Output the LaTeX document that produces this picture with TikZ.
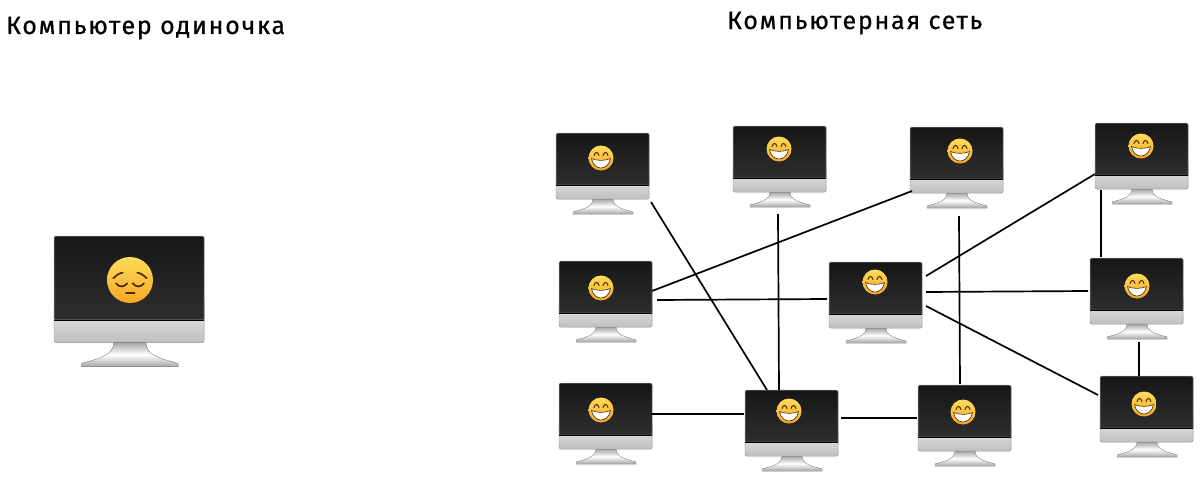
\documentclass[tikz,border=0pt]{standalone}
\usepackage{fontspec}
\setmainfont[LetterSpace=7,FakeBold=0.6]{Fira Sans}
\usetikzlibrary{arrows.meta,positioning,calc}
\definecolor{screendark}{HTML}{161616}
\definecolor{screenlight}{HTML}{2E2E2E}
\definecolor{rimgray}{HTML}{9A9A9A}
\definecolor{faceyellow}{HTML}{FFDC5A}
\definecolor{faceorange}{HTML}{F7A626}
\definecolor{facebrown}{HTML}{4A2A05}
\tikzset{
  pics/monitor/.style={code={
    \node[box] (-box) at (46.5,41.5) {};
    \fill[top color=gray!70,bottom color=gray!70,middle color=white,draw=rimgray,line width=.3pt]
      (37,66) -- (57,66) .. controls (57,74) and (66,76) .. (77,79) -- (77,81) -- (17,81) -- (17,79)
      .. controls (28,76) and (37,74) .. (37,66) -- cycle;
    \fill[top color=gray!15,bottom color=gray!50,draw=rimgray,line width=.4pt,rounded corners=1.5pt]
      (0,40) rectangle (93,66);
    \fill[top color=screendark,bottom color=screenlight,draw=rimgray,line width=.5pt]
      (0,52) {[rounded corners=1.5pt] -- (0,0) -- (93,0)} -- (93,52) -- cycle;
    \draw[black,line width=.6pt] (.3,52) -- (92.7,52);
  }},
  pics/grin/.style={code={
    \node[face,minimum size=25pt] (-disk) at (0,0) {};
    \draw[feature,line width=1pt] (-7,-2.5) .. controls (-6,-6.5) and (-3,-6.5) .. (-2,-2.5);
    \draw[feature,line width=1pt] (2,-2.5) .. controls (3,-6.5) and (6,-6.5) .. (7,-2.5);
    \fill[white,draw=facebrown,line width=.6pt] (-9.5,.5) .. controls (-4,3) and (4,3) .. (9.5,.5)
      .. controls (8.5,7) and (4,10) .. (0,10) .. controls (-4,10) and (-8.5,7) .. (-9.5,.5) -- cycle;
  }},
  pics/pensive/.style={code={
    \node[face,minimum size=46pt] (-disk) at (0,0) {};
    \draw[feature] (-16.7,-1.7) .. controls (-13,-5.5) and (-10,-7) .. (-7.3,-7.3);
    \draw[feature] (16.7,-1.7) .. controls (13,-5.5) and (10,-7) .. (7.3,-7.3);
    \draw[feature] (-14,3.3) .. controls (-11,7.5) and (-6,7.5) .. (-2.7,3.3);
    \draw[feature] (14,3.3) .. controls (11,7.5) and (6,7.5) .. (2.7,3.3);
    \draw[feature] (-4,13.3) -- (4.6,13.3);
  }},
}
\begin{document}
\begin{tikzpicture}[
  x=1pt, y=-1pt,
  box/.style={minimum width=93pt,minimum height=83pt,inner sep=0pt,outer sep=0pt},
  face/.style={circle,inner sep=0pt,outer sep=0pt,top color=faceyellow,bottom color=faceorange},
  feature/.style={draw=facebrown,line width=1.7pt,line cap=round},
  link/.style={line width=1.7pt,black},
  heading/.style={anchor=base west,inner sep=0pt,font=\fontsize{25}{30}\selectfont}
]
\useasboundingbox (0,0) rectangle (1200,479);
\node[heading] (alone) at (6,34) {Компьютер одиночка};
\node[heading] (net) at (727,29) {Компьютерная сеть};
% lonely machine
\pic[scale=1.613] (big) at (54,236) {monitor};
\pic (bigface) at (130,280) {pensive};
% the network
\foreach \n/\x/\y/\ex/\ey in {m1/556/133/601/158,m2/733/126/779/149,m3/910/127/960/151,
  m4/1095/123/1141/146,m5/559/261/601/288,m6/829/262/875/282,m7/1090/258/1137/286,
  m8/559/383/601/410,m9/745/390/789/411,m10/918/385/963/412,m11/1100/376/1144/404}{
  \pic (\n) at (\x,\y) {monitor};
  \pic (\n face) at (\ex,\ey) {grin};
}
\draw[link] ([shift={(95,69)}]m1-box.north west) -- ([shift={(22,0)}]m9-box.north west);
\draw[link] ([shift={(45,5)}]m2-box.south west) -- ([shift={(34,0)}]m9-box.north west);
\draw[link] ([shift={(93,30)}]m5-box.north west) -- ([shift={(2,64)}]m3-box.north west);
\draw[link] ([shift={(98,39)}]m5-box.north west) -- ([shift={(-2,37)}]m6-box.north west);
\draw[link] ([shift={(97,14)}]m6-box.north west) -- ([shift={(0,51)}]m4-box.north west);
\draw[link] ([shift={(97,30)}]m6-box.north west) -- ([shift={(-2,33)}]m7-box.north west);
\draw[link] ([shift={(97,44)}]m6-box.north west) -- ([shift={(-2,19)}]m11-box.north west);
\draw[link] ([shift={(49,6)}]m3-box.south west) -- ([shift={(42,-1)}]m10-box.north west);
\draw[link] ([shift={(6,67)}]m4-box.north west) -- ([shift={(11,-1)}]m7-box.north west);
\draw[link] ([shift={(49,84)}]m7-box.north west) -- ([shift={(39,0)}]m11-box.north west);
\draw[link] ([shift={(92,31)}]m8-box.north west) -- ([shift={(-1,24)}]m9-box.north west);
\draw[link] ([shift={(96,28)}]m9-box.north west) -- ([shift={(-1,33)}]m10-box.north west);
\end{tikzpicture}
\end{document}
